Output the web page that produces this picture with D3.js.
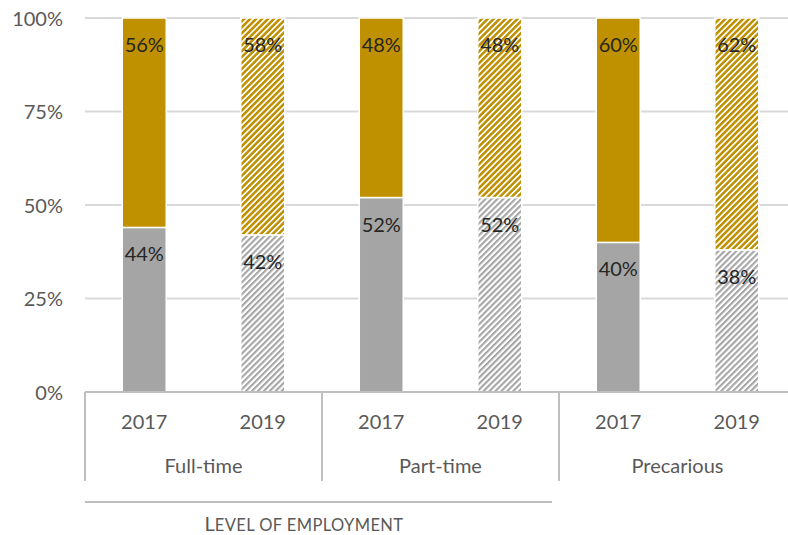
<!DOCTYPE html>
<html>
<head>
<meta charset="utf-8">
<script src="https://cdn.jsdelivr.net/npm/d3@7"></script>
<style>
  html, body { margin: 0; padding: 0; background: #fff; }
  svg { display: block; font-family: Lato, "Open Sans", sans-serif; }
</style>
</head>
<body>
<svg id="chart" width="788" height="535"></svg>
<script>
// Share of each group by employment level and survey year (stacked to 100%)
const groups = ["Full-time", "Part-time", "Precarious"];
const years = ["2017", "2019"];
const lowerShare = [44, 42, 52, 52, 40, 38];   // grey segment
const upperShare = [56, 58, 48, 48, 60, 62];   // gold segment
const yTicks = [0, 0.25, 0.5, 0.75, 1];
const axisTitle = "Level of employment";

const W = 788, H = 535;
const plotLeft = 85, plotRight = 796, plotTop = 18, plotBottom = 392;
const gold = "#BF9000", grey = "#A5A5A5";
const textCol = "#595959";
const fs = "20px";

const svg = d3.select("#chart");

// one bar per group/year combination
const bars = [];
groups.forEach((g, gi) => years.forEach((yr, yi) => {
  const i = gi * years.length + yi;
  bars.push({ key: g + " " + yr, group: g, year: yr, hatched: yi === 1,
              lower: lowerShare[i], upper: upperShare[i] });
}));

const x = d3.scaleBand().domain(bars.map(d => d.key))
  .range([plotLeft, plotRight]).paddingInner(0.629).paddingOuter(0.3145);
const y = d3.scaleLinear().domain([0, 1]).range([plotBottom, plotTop]);

// fine diagonal hatch patterns for the later year
const defs = svg.append("defs");
function hatch(id, color, period, stripe) {
  const p = defs.append("pattern").attr("id", id)
    .attr("patternUnits", "userSpaceOnUse").attr("width", period).attr("height", period)
    .attr("patternTransform", "rotate(45)");
  p.append("rect").attr("width", period).attr("height", period).attr("fill", "#fff");
  p.append("rect").attr("width", stripe).attr("height", period).attr("fill", color);
}
hatch("hatch-gold", gold, 4.2, 2.5);
hatch("hatch-grey", grey, 4.2, 2.1);

// gridlines
svg.append("g").selectAll("line").data(yTicks.filter(t => t > 0)).join("line")
  .attr("x1", plotLeft).attr("x2", W).attr("y1", d => y(d)).attr("y2", d => y(d))
  .attr("stroke", "#D9D9D9").attr("stroke-width", 2);

// y axis labels
const yAxis = d3.axisLeft(y).tickValues(yTicks).tickFormat(d3.format(".0%")).tickSize(0).tickPadding(0);
const ya = svg.append("g").attr("transform", `translate(${plotLeft - 22},0)`).call(yAxis);
ya.select(".domain").remove();
ya.selectAll("text").attr("fill", textCol).style("font-size", fs)
  .style("font-family", "Lato, 'Open Sans', sans-serif").attr("dy", "0.35em");

// stacked segments
const segs = [];
bars.forEach(b => {
  segs.push({ b, y0: 0, y1: b.lower / 100, v: b.lower, fill: b.hatched ? "url(#hatch-grey)" : grey });
  segs.push({ b, y0: b.lower / 100, y1: (b.lower + b.upper) / 100, v: b.upper, fill: b.hatched ? "url(#hatch-gold)" : gold });
});
svg.append("g").selectAll("rect").data(segs).join("rect")
  .attr("x", d => x(d.b.key)).attr("width", x.bandwidth())
  .attr("y", d => y(d.y1)).attr("height", d => y(d.y0) - y(d.y1))
  .attr("fill", d => d.fill).attr("stroke", "#fff").attr("stroke-width", 1.5);

// value labels just inside the top of each segment
svg.append("g").selectAll("text").data(segs).join("text")
  .attr("x", d => x(d.b.key) + x.bandwidth() / 2)
  .attr("y", d => y(d.y1) + 27)
  .attr("dy", "0.35em").attr("text-anchor", "middle")
  .attr("fill", "#262626").style("font-size", fs)
  .text(d => d.v + "%");

// category axis: baseline, year row, group row, separators
svg.append("line").attr("x1", plotLeft).attr("x2", W).attr("y1", plotBottom).attr("y2", plotBottom)
  .attr("stroke", "#BFBFBF").attr("stroke-width", 2);

svg.append("g").selectAll("text").data(bars).join("text")
  .attr("x", d => x(d.key) + x.bandwidth() / 2).attr("y", 422)
  .attr("dy", "0.35em").attr("text-anchor", "middle")
  .attr("fill", textCol).style("font-size", fs).text(d => d.year);

const groupW = (plotRight - plotLeft) / groups.length;
svg.append("g").selectAll("text").data(groups).join("text")
  .attr("x", (d, i) => plotLeft + groupW * (i + 0.5)).attr("y", 466)
  .attr("dy", "0.35em").attr("text-anchor", "middle")
  .attr("fill", textCol).style("font-size", fs).text(d => d);

svg.append("g").selectAll("line").data(d3.range(groups.length + 1)).join("line")
  .attr("x1", i => plotLeft + groupW * i).attr("x2", i => plotLeft + groupW * i)
  .attr("y1", plotBottom).attr("y2", 481)
  .attr("stroke", "#BFBFBF").attr("stroke-width", 2);

// axis title in small capitals, with underline
svg.append("line").attr("x1", plotLeft).attr("x2", 552).attr("y1", 502).attr("y2", 502)
  .attr("stroke", "#7F7F7F").attr("stroke-width", 1.2);
const title = svg.append("text").attr("x", 304).attr("y", 531)
  .attr("text-anchor", "middle").attr("fill", textCol);
title.append("tspan").style("font-size", "20px").text(axisTitle[0].toUpperCase());
title.append("tspan").style("font-size", "16.5px").style("letter-spacing", "0.4px")
  .text(axisTitle.slice(1).toUpperCase());
</script>
</body>
</html>
